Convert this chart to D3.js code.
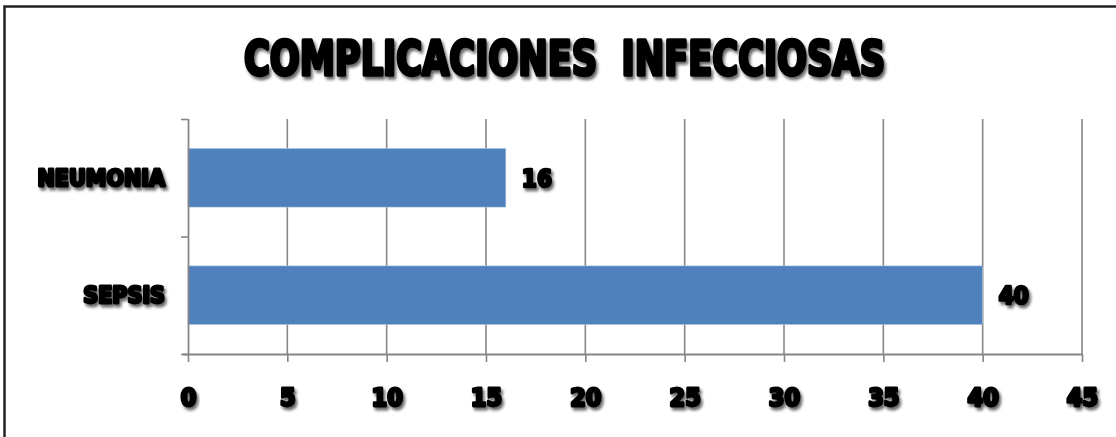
<!DOCTYPE html>
<html>
<head>
<meta charset="utf-8">
<script src="https://cdn.jsdelivr.net/npm/d3@7/dist/d3.min.js"></script>
<style>
  html, body { margin: 0; padding: 0; background: #fff; }
  svg { display: block; }
  .heavy {
    font-family: "Liberation Sans Narrow", "DejaVu Sans Condensed", "Arial Narrow", sans-serif;
    font-weight: bold;
    fill: #000;
    stroke: #000;
    stroke-linejoin: round;
    paint-order: stroke;
  }
</style>
</head>
<body>
<script>
// Chart data
const categories = ["NEUMONIA", "SEPSIS"];
const values = [16, 40];
const xTicks = [0, 5, 10, 15, 20, 25, 30, 35, 40, 45];
const title = "COMPLICACIONES  INFECCIOSAS";

const W = 1116, H = 437;
const plot = { left: 188, right: 1082, top: 119, bottom: 354 };
const barColor = "#4F81BD";
const axisColor = "#868686";

const svg = d3.select("body").append("svg")
  .attr("width", W).attr("height", H);

// Soft drop shadow used under all heavy text
const defs = svg.append("defs");
const f = defs.append("filter").attr("id", "shadow")
  .attr("x", "-10%").attr("y", "-30%").attr("width", "130%").attr("height", "180%");
f.append("feGaussianBlur").attr("in", "SourceAlpha").attr("stdDeviation", 1.7).attr("result", "b");
f.append("feOffset").attr("in", "b").attr("dx", 2).attr("dy", 3).attr("result", "o");
f.append("feComponentTransfer").attr("in", "o").attr("result", "s")
  .append("feFuncA").attr("type", "linear").attr("slope", 0.6);
const m = f.append("feMerge");
m.append("feMergeNode").attr("in", "s");
m.append("feMergeNode").attr("in", "SourceGraphic");

// Outer frame (runs past the right and bottom edges)
svg.append("rect")
  .attr("x", 4.5).attr("y", 6.5).attr("width", W + 20).attr("height", H + 20)
  .attr("fill", "#fff").attr("stroke", "#222").attr("stroke-width", 2.5);

const x = d3.scaleLinear().domain([0, 45]).range([plot.left, plot.right]);
const y = d3.scaleBand().domain(categories).range([plot.top, plot.bottom])
  .paddingInner(0.5).paddingOuter(0.25);

// Vertical gridlines
svg.append("g").selectAll("line")
  .data(xTicks.filter(d => d > 0))
  .join("line")
  .attr("x1", d => x(d)).attr("x2", d => x(d))
  .attr("y1", plot.top).attr("y2", plot.bottom)
  .attr("stroke", axisColor).attr("stroke-width", 1.6);

// Bars
svg.append("g").selectAll("rect")
  .data(categories)
  .join("rect")
  .attr("x", x(0))
  .attr("y", d => y(d))
  .attr("width", (d, i) => x(values[i]) - x(0))
  .attr("height", y.bandwidth())
  .attr("fill", barColor)
  .attr("stroke", "#b9cde5").attr("stroke-width", 0.6);

// X axis
const xAxis = svg.append("g")
  .attr("transform", `translate(0,${plot.bottom})`)
  .call(d3.axisBottom(x).tickValues(xTicks).tickSize(8).tickSizeOuter(0));
xAxis.select(".domain").attr("stroke", axisColor).attr("stroke-width", 1.8)
  .attr("d", `M${x(0) - 5},0.5H${x(45)}`);
xAxis.selectAll(".tick line").attr("stroke", axisColor).attr("stroke-width", 1.6);
xAxis.selectAll(".tick text")
  .attr("class", "heavy")
  .attr("y", 52).attr("dy", 0)
  .attr("font-size", 25)
  .attr("stroke-width", 2.8)
  .attr("filter", "url(#shadow)")
  .attr("text-anchor", "middle");

// Y axis line with ticks at category boundaries
const yAxis = svg.append("g");
yAxis.append("line")
  .attr("x1", plot.left + 0.5).attr("x2", plot.left + 0.5)
  .attr("y1", plot.top).attr("y2", plot.bottom)
  .attr("stroke", axisColor).attr("stroke-width", 1.8);
const bounds = d3.range(categories.length + 1).map(i => plot.top + i * y.step());
yAxis.selectAll("line.tk")
  .data(bounds)
  .join("line").attr("class", "tk")
  .attr("x1", plot.left - 7).attr("x2", plot.left)
  .attr("y1", d => d + 0.5).attr("y2", d => d + 0.5)
  .attr("stroke", axisColor).attr("stroke-width", 1.6);

// Category labels
svg.append("g").selectAll("text")
  .data(categories)
  .join("text")
  .attr("class", "heavy")
  .attr("x", plot.left - 23)
  .attr("y", d => y(d) + y.bandwidth() / 2 + 8)
  .attr("text-anchor", "end")
  .attr("font-size", 23)
  .attr("stroke-width", 2.8)
  .attr("filter", "url(#shadow)")
  .text(d => d);

// Value labels
svg.append("g").selectAll("text")
  .data(categories)
  .join("text")
  .attr("class", "heavy")
  .attr("x", (d, i) => x(values[i]) + 16)
  .attr("y", d => y(d) + y.bandwidth() / 2 + 9)
  .attr("font-size", 24)
  .attr("stroke-width", 2.6)
  .attr("filter", "url(#shadow)")
  .text((d, i) => values[i]);

// Title
svg.append("text")
  .attr("class", "heavy")
  .attr("x", 244).attr("y", 75)
  .attr("font-size", 48)
  .attr("stroke-width", 3.4)
  .attr("textLength", 641)
  .attr("lengthAdjust", "spacingAndGlyphs")
  .attr("filter", "url(#shadow)")
  .style("white-space", "pre")
  .text(title);
</script>
</body>
</html>
